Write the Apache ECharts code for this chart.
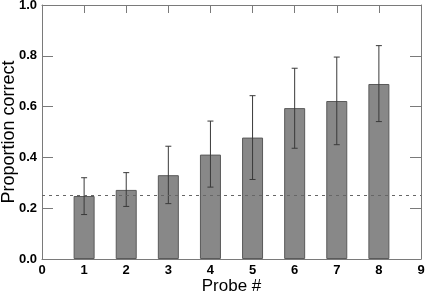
<!DOCTYPE html>
<html>
<head>
<meta charset="utf-8">
<script src="https://cdn.jsdelivr.net/npm/echarts@6/dist/echarts.min.js"></script>
<style>
html, body { margin: 0; padding: 0; background: #fff; }
#chart { width: 425px; height: 298px; }
</style>
</head>
<body>
<div id="chart"></div>
<script>
var probes = [1, 2, 3, 4, 5, 6, 7, 8];
var proportion = [0.248, 0.272, 0.33, 0.411, 0.478, 0.594, 0.622, 0.689];
var errLow = [0.175, 0.207, 0.218, 0.283, 0.313, 0.436, 0.45, 0.541];
var errHigh = [0.32, 0.34, 0.444, 0.543, 0.643, 0.751, 0.795, 0.84];
var chanceLevel = 0.25;

var myChart = echarts.init(document.getElementById('chart'));

var barData = [];
var errData = [];
for (var i = 0; i < probes.length; i++) {
    barData.push([probes[i], proportion[i]]);
    errData.push([probes[i], errLow[i], errHigh[i]]);
}

var tickFont = {
    fontFamily: 'Liberation Sans',
    fontWeight: 'bold',
    fontSize: 13,
    color: '#000'
};
var lineCol = '#7a7a7a';

var option = {
    animation: false,
    grid: {
        left: 42,
        right: 4,
        top: 5,
        bottom: 39,
        containLabel: false,
        outerBoundsMode: 'none'
    },
    xAxis: [{
        type: 'value',
        min: 0,
        max: 9,
        interval: 1,
        name: 'Probe #',
        nameLocation: 'middle',
        nameGap: 19,
        nameMoveOverlap: false,
        nameTextStyle: { fontFamily: 'Liberation Sans', fontSize: 17, color: '#000' },
        axisLine: { show: true, onZero: false, lineStyle: { color: lineCol, width: 1 } },
        axisTick: { show: false },
        axisLabel: Object.assign({ margin: 5 }, tickFont),
        splitLine: { show: false }
    }, {
        type: 'value',
        position: 'top',
        min: 0,
        max: 9,
        interval: 1,
        axisLine: { show: true, onZero: false, lineStyle: { color: lineCol, width: 1 } },
        axisTick: { show: true, inside: true, length: 8, lineStyle: { color: lineCol } },
        axisLabel: { show: false },
        splitLine: { show: false }
    }],
    yAxis: [{
        type: 'value',
        min: 0,
        max: 1,
        interval: 0.2,
        name: 'Proportion correct',
        nameLocation: 'middle',
        nameGap: 24,
        nameMoveOverlap: false,
        nameTextStyle: { fontFamily: 'Liberation Sans', fontSize: 18, color: '#000' },
        axisLine: { show: true, onZero: false, lineStyle: { color: lineCol, width: 1 } },
        axisTick: { show: true, inside: true, length: 11, lineStyle: { color: lineCol } },
        axisLabel: Object.assign({
            margin: 5,
            formatter: function (v) { return v.toFixed(1); }
        }, tickFont),
        splitLine: { show: false }
    }, {
        type: 'value',
        position: 'right',
        min: 0,
        max: 1,
        interval: 0.2,
        axisLine: { show: true, onZero: false, lineStyle: { color: lineCol, width: 1 } },
        axisTick: { show: true, inside: true, length: 11, lineStyle: { color: lineCol } },
        axisLabel: { show: false },
        splitLine: { show: false }
    }],
    series: [{
        type: 'bar',
        data: barData,
        barWidth: 21,
        itemStyle: {
            color: '#888888',
            borderColor: '#5a5a5a',
            borderWidth: 1
        },
        markLine: {
            silent: true,
            symbol: 'none',
            label: { show: false },
            lineStyle: { color: '#666', type: [3, 4], width: 1 },
            data: [{ yAxis: chanceLevel }]
        },
        z: 2
    }, {
        type: 'custom',
        data: errData,
        renderItem: function (params, api) {
            var x = api.value(0);
            var lo = api.coord([x, api.value(1)]);
            var hi = api.coord([x, api.value(2)]);
            var cap = 3;
            var st = { stroke: '#3a3a3a', lineWidth: 1 };
            return {
                type: 'group',
                children: [
                    { type: 'line', shape: { x1: lo[0], y1: lo[1], x2: hi[0], y2: hi[1] }, style: st },
                    { type: 'line', shape: { x1: lo[0] - cap, y1: lo[1], x2: lo[0] + cap, y2: lo[1] }, style: st },
                    { type: 'line', shape: { x1: hi[0] - cap, y1: hi[1], x2: hi[0] + cap, y2: hi[1] }, style: st }
                ]
            };
        },
        z: 3
    }]
};

myChart.setOption(option);
</script>
</body>
</html>
